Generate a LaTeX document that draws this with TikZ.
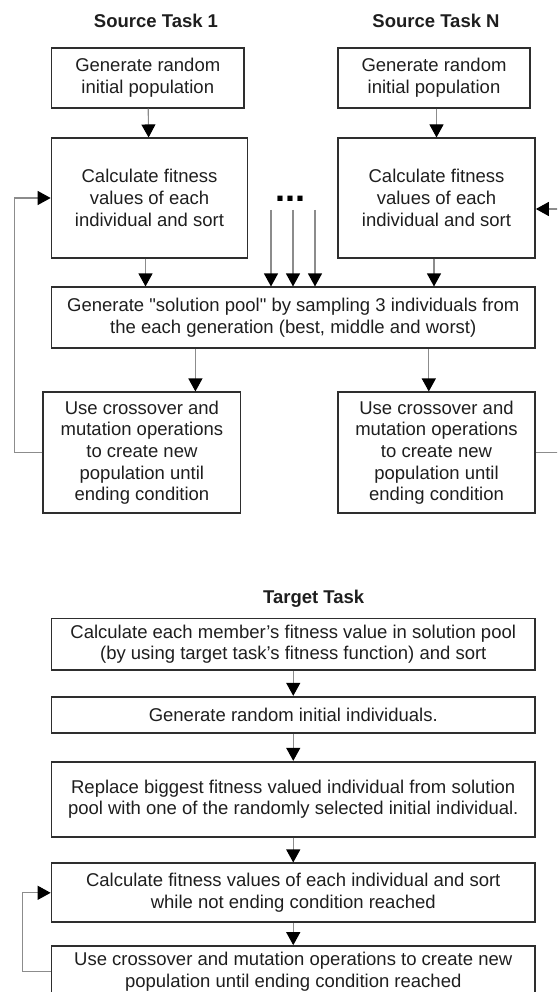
\documentclass[tikz,border=0pt]{standalone}
\usepackage{fontspec}
\setmainfont{Liberation Sans}
\usepackage{xcolor}
\usepackage{tikz}
\usetikzlibrary{positioning,calc,arrows.meta}

\definecolor{boxgray}{HTML}{2E2E2E}
\definecolor{wiregray}{HTML}{8C8C8C}
\definecolor{inkgray}{HTML}{1E1E1E}

\begin{document}
\begin{tikzpicture}[x=1pt,y=-1pt,
    stepbox/.style={draw=boxgray, line width=1.7pt, text=inkgray, align=center, inner sep=0pt, font=\fontsize{18.5}{21.7}\selectfont},
    tasktitle/.style={text=inkgray, inner sep=0pt, font=\fontsize{18.5}{21.7}\selectfont\bfseries},
    flow/.style={draw=wiregray, line width=1.1pt, -{Triangle[length=13pt,width=14pt,color=black]}}]

    \useasboundingbox (0,0) rectangle (557,992);
    \clip (0,0) rectangle (557,992);

    \node[tasktitle] (src1) at (156,21) {Source Task 1};
    \node[tasktitle] (srcN) at (436,21) {Source Task N};

    \node[stepbox, minimum width=192.5pt, minimum height=59.4pt] (gen1) at (147.75,78) {Generate random\\initial population};
    \node[stepbox, minimum width=192pt, minimum height=59.4pt] (genN) at (434,78) {Generate random\\initial population};
    \node[stepbox, minimum width=196pt, minimum height=119.4pt] (fit1) at (149.5,198) {Calculate fitness\\values of each\\individual and sort};
    \node[stepbox, minimum width=197pt, minimum height=119.4pt] (fitN) at (436.5,198) {Calculate fitness\\values of each\\individual and sort};
    \node[stepbox, minimum width=483.5pt, minimum height=61pt] (pool) at (293.25,317.8) {Generate \textquotedbl solution pool\textquotedbl{} by sampling 3 individuals from\\the each generation (best, middle and worst)};
    \node[stepbox, minimum width=197.2pt, minimum height=121pt] (cross1) at (141.9,452.8) {Use crossover and\\mutation operations\\to create new\\population until\\ending condition};
    \node[stepbox, minimum width=197pt, minimum height=121pt] (crossN) at (436.5,452.8) {Use crossover and\\mutation operations\\to create new\\population until\\ending condition};

    \node[text=black, inner sep=0pt, font=\fontsize{36}{36}\selectfont\bfseries] (dots) at (290,199) {...};
    \foreach \n/\x in {m1/271, m2/293, m3/315} \coordinate (\n) at (\x,210);

    \draw[flow] (gen1) -- (fit1);
    \draw[flow] (genN.south -| fitN) -- (fitN);
    \draw[flow] ([xshift=-4pt]fit1.south) -- ([xshift=-4pt]fit1.south |- pool.north);
    \draw[flow] ([xshift=-2.5pt]fitN.south) -- ([xshift=-2.5pt]fitN.south |- pool.north);
    \foreach \n in {m1,m2,m3} \draw[flow] (\n) -- (\n |- pool.north);
    \draw[flow] ([xshift=53.5pt]cross1.north |- pool.south) -- ([xshift=53.5pt]cross1.north);
    \draw[flow] ([xshift=-7.7pt]crossN.north |- pool.south) -- ([xshift=-7.7pt]crossN.north);
    \draw[flow] (cross1.west) -- ++(-28,0) |- (fit1.west);
    \draw[flow] (crossN.east) -- ++(40,0) |- ([yshift=-11pt]fitN.east);

    \node[tasktitle] (tgt) at (313.7,598.3) {Target Task};

    \node[stepbox, minimum width=483.5pt, minimum height=51.7pt] (eval) at (293.25,644.2) {Calculate each member's fitness value in solution pool\\(by using target task's fitness function) and sort};
    \node[stepbox, minimum width=483.5pt, minimum height=36.6pt] (init) at (293.25,715) {Generate random initial individuals.};
    \node[stepbox, minimum width=483.5pt, minimum height=75pt] (swap) at (293.25,799.2) {Replace biggest fitness valued individual from solution\\pool with one of the randomly selected initial individual.};
    \node[stepbox, minimum width=483.5pt, minimum height=59pt] (fitT) at (293.25,892.8) {Calculate fitness values of each individual and sort\\while not ending condition reached};
    \node[stepbox, minimum width=483.5pt, minimum height=51pt] (crossT) at (293.25,971.5) {Use crossover and mutation operations to create new\\population until ending condition reached};

    \draw[flow] (eval) -- (init);
    \draw[flow] (init) -- (swap);
    \draw[flow] (swap) -- (fitT);
    \draw[flow] (fitT) -- (crossT);
    \draw[flow] (crossT.west) -- ++(-28.5,0) |- (fitT.west);
\end{tikzpicture}
\end{document}
